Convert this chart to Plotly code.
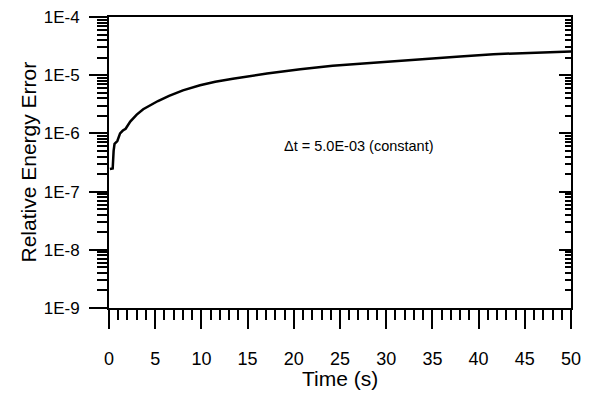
import plotly.graph_objects as go

# Data
time_s = [0.1, 0.4, 0.5, 0.6, 0.9, 1.2, 1.5, 1.8, 2.3, 3.0, 3.7, 4.4, 5.3, 6.5, 8.0,
          9.85, 11.5, 13.4, 15.0, 17.1, 20.7, 24.2, 27.9, 31.0, 34.4, 38.0, 41.6, 45.0, 50.0]
rel_err = [2.45e-7, 2.5e-7, 5.0e-7, 6.6e-7, 7.4e-7, 1.0e-6, 1.12e-6, 1.2e-6, 1.6e-6, 2.1e-6,
           2.6e-6, 3.0e-6, 3.6e-6, 4.4e-6, 5.5e-6,
           6.7e-6, 7.7e-6, 8.7e-6, 9.6e-6, 1.07e-5, 1.26e-5, 1.45e-5, 1.6e-5, 1.75e-5,
           1.9e-5, 2.1e-5, 2.3e-5, 2.4e-5, 2.55e-5]

x_ticks = [0, 5, 10, 15, 20, 25, 30, 35, 40, 45, 50]
y_tickvals = [1e-9, 1e-8, 1e-7, 1e-6, 1e-5, 1e-4]
y_ticktext = ["1E-9", "1E-8", "1E-7", "1E-6", "1E-5", "1E-4"]
x_title = "Time (s)"
y_title = "Relative Energy Error"
note_text = "\u0394t = 5.0E-03 (constant)"

# minor tick positions for the log axis (2..9 within each decade)
y_minor = [m * 10.0 ** e for e in range(-9, -4) for m in range(2, 10)]

FONT = "Liberation Sans, Arial, sans-serif"

fig = go.Figure()
fig.add_trace(go.Scatter(x=time_s, y=rel_err, mode="lines",
                         line=dict(color="black", width=2.5), showlegend=False))
fig.add_trace(go.Scatter(x=time_s, y=rel_err, mode="lines", yaxis="y2",
                         line=dict(color="rgba(0,0,0,0)", width=0), showlegend=False,
                         hoverinfo="skip"))

# the page puts the figure a few px in from the corner, so it is made smaller
fig.update_layout(
    width=584, height=389,
    margin=dict(l=101, r=21, t=0, b=89),
    paper_bgcolor="white", plot_bgcolor="white",
    font=dict(family=FONT, color="black"),
    xaxis=dict(
        range=[0, 50], tickvals=x_ticks, ticks="outside", ticklen=19, tickwidth=2,
        tickcolor="black", showline=True, linecolor="black", linewidth=2, mirror=True,
        showgrid=False, zeroline=False, tickfont=dict(size=18),
        ticklabelstandoff=14, ticklabeloverflow="allow",
        minor=dict(dtick=1, ticks="outside", ticklen=10, tickwidth=1.5, tickcolor="black",
                   showgrid=False),
    ),
    yaxis=dict(
        type="log", range=[-9, -4], tickvals=y_tickvals, ticktext=y_ticktext,
        ticks="outside", ticklen=18, tickwidth=2, tickcolor="black",
        showline=True, linecolor="black", linewidth=2, mirror=True,
        showgrid=False, zeroline=False, tickfont=dict(size=17),
        ticklabelstandoff=6, ticklabeloverflow="allow",
        minor=dict(tickvals=y_minor, ticks="outside", ticklen=10, tickwidth=1.5,
                   tickcolor="black", showgrid=False),
    ),
    yaxis2=dict(
        type="log", range=[-9, -4], overlaying="y", side="right", tickvals=y_tickvals,
        showticklabels=False, ticks="inside", ticklen=12, tickwidth=2, tickcolor="black",
        showline=False, showgrid=False, zeroline=False,
        minor=dict(tickvals=y_minor, ticks="inside", ticklen=6, tickwidth=1.5,
                   tickcolor="black", showgrid=False),
    ),
)

fig.add_annotation(x=0.5, y=0, xref="paper", yref="paper", text=x_title, showarrow=False,
                   xanchor="center", yanchor="middle", yshift=-70,
                   font=dict(size=21, family=FONT))
fig.add_annotation(x=0, y=0.5, xref="paper", yref="paper", text=y_title, showarrow=False,
                   xanchor="center", yanchor="middle", xshift=-81, textangle=-90,
                   font=dict(size=21, family=FONT))
fig.add_annotation(x=18.7, y=-6.22, xref="x", yref="y", text=note_text, showarrow=False,
                   xanchor="left", yanchor="middle", font=dict(size=14.5, family=FONT))

fig.write_html("out.html")
